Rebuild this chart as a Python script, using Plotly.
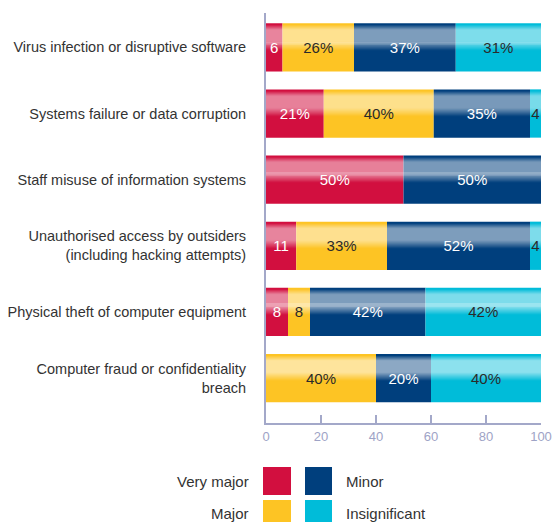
import plotly.graph_objects as go

categories = [
    "Virus infection or disruptive software",
    "Systems failure or data corruption",
    "Staff misuse of information systems",
    "Unauthorised access by outsiders<br>(including hacking attempts)",
    "Physical theft of computer equipment",
    "Computer fraud or confidentiality<br>breach",
]
very_major = [6, 21, 50, 11, 8, 0]
major = [26, 40, 0, 33, 8, 40]
minor = [37, 35, 50, 52, 42, 20]
insignificant = [31, 4, 0, 4, 42, 40]

series_names = ["Very major", "Major", "Minor", "Insignificant"]
series_values = [very_major, major, minor, insignificant]
colors = ["#d20f3f", "#fdc424", "#003f7d", "#00bcd9"]
text_colors = ["white", "#2a2a2a", "white", "#2a2a2a"]

BAR_W = 0.73
TOP = -BAR_W / 2

fig = go.Figure()

# stacked segments (explicit base so the glossy overlays can sit on top)
bases = [0] * len(categories)
seg_bases = []
for name, vals, col in zip(series_names, series_values, colors):
    seg_bases.append(list(bases))
    fig.add_trace(go.Bar(
        y=categories, x=vals, base=list(bases), orientation="h", name=name,
        marker=dict(color=col, line=dict(width=0)),
        width=BAR_W, offset=TOP, showlegend=False, hoverinfo="skip",
    ))
    bases = [b + v for b, v in zip(bases, vals)]
totals = bases


# glossy sheen: white overlay whose opacity ramps up, holds, then fades
def sheen(f):
    if f < 0.03:
        return 0.0
    if f < 0.14:
        return 0.55 * (f - 0.03) / 0.11
    if f < 0.38:
        return 0.55
    if f < 0.56:
        return 0.55 * (0.56 - f) / 0.18
    return 0.0


steps = 48
for i in range(steps):
    a, b = i / steps, (i + 1) / steps
    op = sheen((a + b) / 2)
    if op <= 0.01:
        continue
    fig.add_trace(go.Bar(
        y=categories, x=totals, base=[0] * len(totals), orientation="h",
        marker=dict(color="rgba(255,255,255,%.3f)" % op, line=dict(width=0)),
        width=(b - a) * BAR_W * 1.02, offset=TOP + a * BAR_W,
        showlegend=False, hoverinfo="skip",
    ))

# value labels
for vals, base, tcol in zip(series_values, seg_bases, text_colors):
    labels = ["" if v == 0 else (f"{v}%" if v >= 20 else str(v)) for v in vals]
    fig.add_trace(go.Bar(
        y=categories, x=vals, base=base, orientation="h",
        marker=dict(color="rgba(0,0,0,0)", line=dict(width=0)),
        width=BAR_W, offset=TOP,
        text=labels, textposition="inside", insidetextanchor="middle",
        constraintext="none", cliponaxis=False,
        textfont=dict(family="Liberation Sans, Arial", size=15, color=tcol),
        showlegend=False, hoverinfo="skip",
    ))

axis_col = "#a3a8c9"
fig.update_layout(
    width=552, height=522,
    margin=dict(l=266, r=11, t=13, b=99),
    barmode="overlay",
    plot_bgcolor="white", paper_bgcolor="white",
    font=dict(family="Liberation Sans Narrow, Arial Narrow, sans-serif", size=14, color="#333333"),
    xaxis=dict(
        range=[0, 100], tickvals=[0, 20, 40, 60, 80, 100],
        showgrid=False, zeroline=False, automargin=False,
        showline=True, linecolor=axis_col, linewidth=2,
        ticks="inside", ticklen=8, tickwidth=2, tickcolor=axis_col,
        tickfont=dict(size=13, color="#9ea3c6"),
        ticklabeloverflow="allow",
    ),
    yaxis=dict(
        type="category", categoryorder="array", categoryarray=categories,
        range=[5.68, -0.52],
        showgrid=False, zeroline=False, automargin=False,
        showline=True, linecolor=axis_col, linewidth=2,
        ticks="", ticklabelstandoff=15,
        tickfont=dict(size=14.5, color="#333333"),
    ),
)


# legend drawn as two columns: text | swatch  swatch | text
def px_x(px):
    return (px - 266) / 275.0


def px_y(py):
    return (423 - py) / 410.0


legend_rows = [(482, 467), (513, 500)]
left_items = [(series_names[0], colors[0]), (series_names[1], colors[1])]
right_items = [(series_names[2], colors[2]), (series_names[3], colors[3])]
for (cy, top), (lname, lcol), (rname, rcol) in zip(legend_rows, left_items, right_items):
    fig.add_shape(type="rect", xref="paper", yref="paper",
                  x0=px_x(263), x1=px_x(291), y0=px_y(top), y1=px_y(top + 28),
                  fillcolor=lcol, line=dict(width=0))
    fig.add_shape(type="rect", xref="paper", yref="paper",
                  x0=px_x(305), x1=px_x(332), y0=px_y(top), y1=px_y(top + 28),
                  fillcolor=rcol, line=dict(width=0))
    fig.add_annotation(text=lname, xref="paper", yref="paper", x=px_x(251), y=px_y(cy),
                       xanchor="right", yanchor="middle", showarrow=False,
                       font=dict(size=15, color="#333333"))
    fig.add_annotation(text=rname, xref="paper", yref="paper", x=px_x(344), y=px_y(cy),
                       xanchor="left", yanchor="middle", showarrow=False,
                       font=dict(size=15, color="#333333"))

fig.write_html("out.html", config={"displayModeBar": False},
               post_script="document.body.style.margin='0';")
